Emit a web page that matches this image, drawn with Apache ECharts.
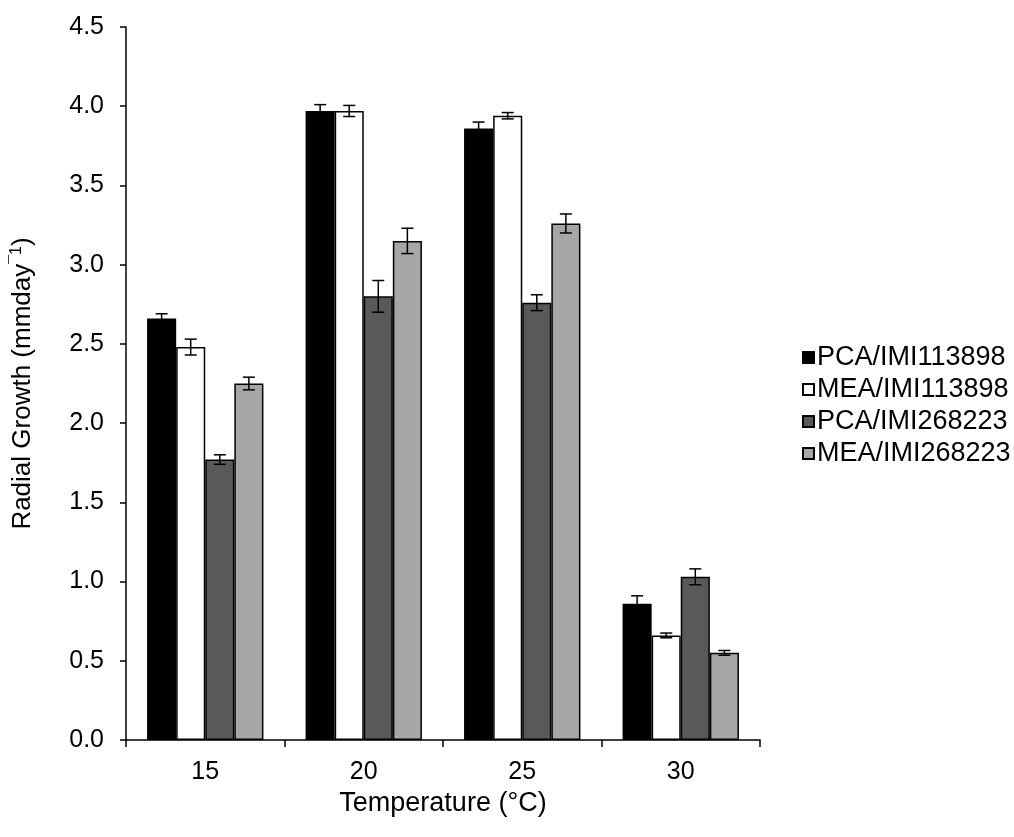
<!DOCTYPE html>
<html>
<head>
<meta charset="utf-8">
<script src="https://cdn.jsdelivr.net/npm/echarts@6/dist/echarts.min.js"></script>
<style>
  html, body { margin: 0; padding: 0; background: #ffffff; }
  #chart { width: 1014px; height: 837px; }
</style>
</head>
<body>
<div id="chart"></div>
<script>
// Radial growth per temperature, for two isolates on two media
const categories = ['15', '20', '25', '30'];
const seriesNames = ['PCA/IMI113898', 'MEA/IMI113898', 'PCA/IMI268223', 'MEA/IMI268223'];

const pcaIMI113898 = [2.66, 3.97, 3.86, 0.86];
const meaIMI113898 = [2.48, 3.97, 3.94, 0.66];
const pcaIMI268223 = [1.77, 2.80, 2.76, 1.03];
const meaIMI268223 = [2.25, 3.15, 3.26, 0.55];

// standard errors
const pcaIMI113898Err = [0.03, 0.04, 0.04, 0.05];
const meaIMI113898Err = [0.05, 0.035, 0.02, 0.015];
const pcaIMI268223Err = [0.03, 0.10, 0.05, 0.05];
const meaIMI268223Err = [0.04, 0.08, 0.06, 0.015];

const yTicks = [0, 0.5, 1, 1.5, 2, 2.5, 3, 3.5, 4, 4.5];

const values = [pcaIMI113898, meaIMI113898, pcaIMI268223, meaIMI268223];
const errors = [pcaIMI113898Err, meaIMI113898Err, pcaIMI268223Err, meaIMI268223Err];
const fills = ['#000000', '#ffffff', '#595959', '#a6a6a6'];

const FONT = '"Liberation Sans", Arial, sans-serif';
const CATEGORY_GAP = 0.266;

const chart = echarts.init(document.getElementById('chart'), null, { renderer: 'canvas' });

const barSeries = seriesNames.map((name, i) => ({
  name: name,
  type: 'bar',
  data: values[i],
  barGap: '0%',
  barCategoryGap: (CATEGORY_GAP * 100) + '%',
  itemStyle: { color: fills[i], borderColor: '#000000', borderWidth: 1.5 },
  emphasis: { disabled: true },
  animation: false,
  z: 2
}));

// error bars placed over the matching bar inside each category band
const errorSeries = seriesNames.map((name, i) => ({
  type: 'custom',
  data: values[i].map((v, k) => [k, v, errors[i][k]]),
  encode: { x: 0, y: 1 },
  animation: false,
  silent: true,
  z: 5,
  renderItem: function (params, api) {
    const k = api.value(0);
    const v = api.value(1);
    const e = api.value(2);
    const band = api.size([1, 0])[0];
    const groupW = band * (1 - CATEGORY_GAP);
    const barW = groupW / seriesNames.length;
    const center = api.coord([k, v])[0];
    const x = center - groupW / 2 + barW * (i + 0.5);
    const yHi = api.coord([k, v + e])[1];
    const yLo = api.coord([k, v - e])[1];
    const cap = 6;
    const style = { stroke: '#000000', lineWidth: 1.5, fill: null };
    return {
      type: 'group',
      children: [
        { type: 'line', shape: { x1: x, y1: yHi, x2: x, y2: yLo }, style: style },
        { type: 'line', shape: { x1: x - cap, y1: yHi, x2: x + cap, y2: yHi }, style: style },
        { type: 'line', shape: { x1: x - cap, y1: yLo, x2: x + cap, y2: yLo }, style: style }
      ]
    };
  }
}));

chart.setOption({
  backgroundColor: '#ffffff',
  animation: false,
  grid: { left: 126, right: 254, top: 27, bottom: 97, containLabel: false },
  legend: {
    data: seriesNames,
    orient: 'vertical',
    left: 797,
    top: 339,
    itemWidth: 11,
    itemHeight: 11,
    itemGap: 5,
    icon: 'rect',
    selectedMode: false,
    textStyle: { fontFamily: FONT, fontSize: 27, color: '#000000', padding: [0, 0, 0, -2] }
  },
  xAxis: {
    type: 'category',
    data: categories,
    name: 'Temperature (°C)',
    nameLocation: 'middle',
    nameGap: 50,
    nameTextStyle: { fontFamily: FONT, fontSize: 27, color: '#000000' },
    axisLine: { lineStyle: { color: '#000000', width: 1.5 } },
    axisTick: { show: true, inside: false, length: 7, alignWithLabel: false, lineStyle: { color: '#000000', width: 1.5 } },
    axisLabel: { fontFamily: FONT, fontSize: 25, color: '#000000', margin: 20 },
    splitLine: { show: false }
  },
  yAxis: {
    type: 'value',
    min: yTicks[0],
    max: yTicks[yTicks.length - 1],
    interval: 0.5,
    name: 'Radial Growth (mmday{sup|¯1})',
    nameLocation: 'middle',
    nameGap: 89,
    nameRotate: 90,
    nameTextStyle: {
      fontFamily: FONT, fontSize: 26, color: '#000000',
      rich: { sup: { fontFamily: FONT, fontSize: 16, color: '#000000', verticalAlign: 'top', padding: [0, 0, 12, 0] } }
    },
    axisLine: { show: true, lineStyle: { color: '#000000', width: 1.5 } },
    axisTick: { show: true, inside: false, length: 6, lineStyle: { color: '#000000', width: 1.5 } },
    axisLabel: { fontFamily: FONT, fontSize: 25, color: '#000000', margin: 22, formatter: v => v.toFixed(1) },
    splitLine: { show: false }
  },
  series: barSeries.concat(errorSeries)
});
</script>
</body>
</html>
